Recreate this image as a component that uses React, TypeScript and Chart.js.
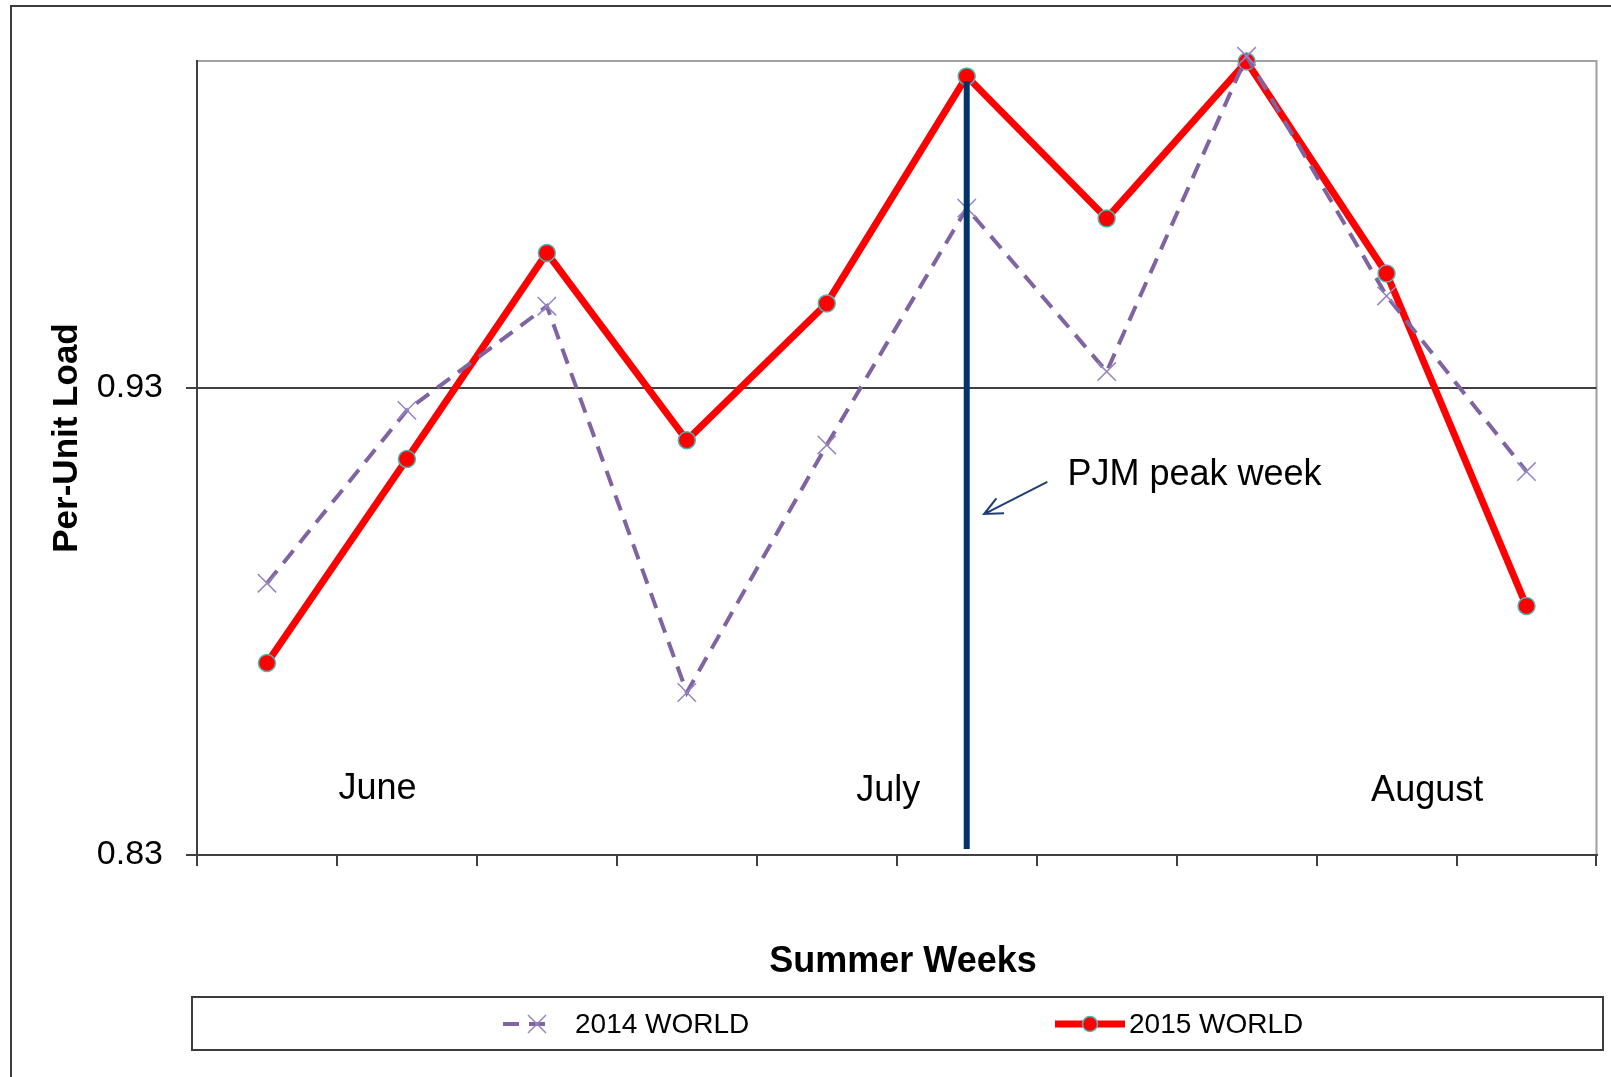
import React, { useEffect, useRef } from 'react';
import { Chart, registerables } from 'chart.js';

Chart.register(...registerables);

// ---------- data ----------
const weeks = ['Week 1', 'Week 2', 'Week 3', 'Week 4', 'Week 5', 'Week 6', 'Week 7', 'Week 8', 'Week 9', 'Week 10'];
const load2014 = [0.8882, 0.9252, 0.9475, 0.8648, 0.9178, 0.9685, 0.9335, 1.001, 0.9497, 0.9121];
const load2015 = [0.8711, 0.9148, 0.9589, 0.9188, 0.9481, 0.9967, 0.9663, 0.9999, 0.9545, 0.8833];
const seriesLabels = ['2014 WORLD', '2015 WORLD'];
const yTickValues = [0.83, 0.93];
const yMin = 0.83;
const yMax = 1.0;
const months = ['June', 'July', 'August'];
const peakWeekIndex = 5;
const peakLabel = 'PJM peak week';
const xTitle = 'Summer Weeks';
const yTitle = 'Per-Unit Load';

// ---------- layout / style (positions in category-index / value units where on the plot) ----------
const FONT = '"Liberation Sans", Arial, Helvetica, sans-serif';
const monthAnchors = [
  { x: 0.79, y: 0.842 },
  { x: 4.44, y: 0.8416 },
  { x: 8.29, y: 0.8416 },
];
const peakTextAnchor = { x: 5.72, y: 0.9092 };
const arrowFrom = { x: 5.576, y: 0.9099 };
const arrowTo = { x: 5.124, y: 0.903 };
const peakLineBottom = 0.8313;

const PURPLE = '#8064a2';
const PURPLE_MARK = '#9585c2';
const RED = '#ff0000';
const TEAL = '#4bb8b8';
const NAVY = '#00336a';

const decorPlugin = {
  id: 'decor',
  beforeDraw(chart: any) {
    const ctx = chart.ctx;
    const { left, right, top, bottom } = chart.chartArea;
    ctx.save();
    ctx.fillStyle = '#ffffff';
    ctx.fillRect(0, 0, chart.width, chart.height);
    // outer frame
    ctx.strokeStyle = '#3c3c3c';
    ctx.lineWidth = 2;
    ctx.beginPath();
    ctx.moveTo(11, chart.height + 2);
    ctx.lineTo(11, 6);
    ctx.lineTo(chart.width + 2, 6);
    ctx.stroke();
    // plot-area top/right border
    ctx.strokeStyle = '#a0a0a0';
    ctx.lineWidth = 2;
    ctx.beginPath();
    ctx.moveTo(left, top);
    ctx.lineTo(right, top);
    ctx.lineTo(right, bottom);
    ctx.stroke();
    ctx.restore();
  },
  afterDatasetsDraw(chart: any) {
    const ctx = chart.ctx;
    const xs = chart.scales.x;
    const ys = chart.scales.y;
    ctx.save();
    // peak week vertical line
    const px = xs.getPixelForValue(peakWeekIndex);
    const pTop = ys.getPixelForValue(load2015[peakWeekIndex]) + 5;
    const pBot = ys.getPixelForValue(peakLineBottom);
    ctx.strokeStyle = NAVY;
    ctx.lineWidth = 6;
    ctx.beginPath();
    ctx.moveTo(px, pTop);
    ctx.lineTo(px, pBot);
    ctx.stroke();

    // arrow
    const ax1 = xs.getPixelForValue(arrowFrom.x);
    const ay1 = ys.getPixelForValue(arrowFrom.y);
    const ax2 = xs.getPixelForValue(arrowTo.x);
    const ay2 = ys.getPixelForValue(arrowTo.y);
    ctx.strokeStyle = '#1f3f73';
    ctx.lineWidth = 2;
    ctx.beginPath();
    ctx.moveTo(ax1, ay1);
    ctx.lineTo(ax2, ay2);
    const ang = Math.atan2(ay1 - ay2, ax1 - ax2);
    const hl = 20;
    const ha = (25 * Math.PI) / 180;
    ctx.moveTo(ax2 + hl * Math.cos(ang - ha), ay2 + hl * Math.sin(ang - ha));
    ctx.lineTo(ax2, ay2);
    ctx.lineTo(ax2 + hl * Math.cos(ang + ha), ay2 + hl * Math.sin(ang + ha));
    ctx.stroke();

    // annotation text
    ctx.fillStyle = '#000';
    ctx.font = `36px ${FONT}`;
    ctx.textAlign = 'left';
    ctx.textBaseline = 'alphabetic';
    ctx.fillText(peakLabel, xs.getPixelForValue(peakTextAnchor.x), ys.getPixelForValue(peakTextAnchor.y));

    // month labels
    ctx.textAlign = 'center';
    months.forEach((m, i) => {
      ctx.fillText(m, xs.getPixelForValue(monthAnchors[i].x), ys.getPixelForValue(monthAnchors[i].y));
    });
    ctx.restore();
  },
  afterDraw(chart: any) {
    const ctx = chart.ctx;
    ctx.save();
    ctx.fillStyle = '#000';
    // axis titles
    ctx.font = `bold 36px ${FONT}`;
    ctx.textAlign = 'center';
    ctx.textBaseline = 'alphabetic';
    ctx.fillText(xTitle, 903, 972);
    ctx.save();
    ctx.font = `bold 35px ${FONT}`;
    ctx.translate(77, 438);
    ctx.rotate(-Math.PI / 2);
    ctx.fillText(yTitle, 0, 0);
    ctx.restore();

    // legend box
    ctx.strokeStyle = '#3c3c3c';
    ctx.lineWidth = 2;
    ctx.strokeRect(192, 997, 1411, 53);
    const ly = 1024;
    const ds = chart.data.datasets;
    // 2014 symbol
    ctx.strokeStyle = ds[0].borderColor;
    ctx.lineWidth = ds[0].borderWidth;
    ctx.setLineDash(ds[0].borderDash);
    ctx.beginPath();
    ctx.moveTo(503, ly);
    ctx.lineTo(552, ly);
    ctx.stroke();
    ctx.setLineDash([]);
    ctx.strokeStyle = ds[0].pointBorderColor;
    ctx.lineWidth = 1.5;
    const h = 9;
    ctx.beginPath();
    ctx.moveTo(537 - h, ly - h);
    ctx.lineTo(537 + h, ly + h);
    ctx.moveTo(537 - h, ly + h);
    ctx.lineTo(537 + h, ly - h);
    ctx.stroke();
    // 2015 symbol
    ctx.strokeStyle = ds[1].borderColor;
    ctx.lineWidth = ds[1].borderWidth;
    ctx.beginPath();
    ctx.moveTo(1055, ly);
    ctx.lineTo(1125, ly);
    ctx.stroke();
    ctx.fillStyle = ds[1].pointBackgroundColor;
    ctx.strokeStyle = ds[1].pointBorderColor;
    ctx.lineWidth = 1.5;
    ctx.beginPath();
    ctx.arc(1090, ly, 7.5, 0, Math.PI * 2);
    ctx.fill();
    ctx.stroke();
    // legend texts
    ctx.fillStyle = '#000';
    ctx.font = `28px ${FONT}`;
    ctx.textAlign = 'left';
    ctx.textBaseline = 'middle';
    ctx.fillText(ds[0].label, 575, ly + 1);
    ctx.fillText(ds[1].label, 1129, ly + 1);
    ctx.restore();
  },
};

export default function App() {
  const canvasRef = useRef<HTMLCanvasElement | null>(null);

  useEffect(() => {
    const canvas = canvasRef.current;
    if (!canvas) return;
    const chart = new Chart(canvas, {
      type: 'line',
      data: {
        labels: weeks,
        datasets: [
          {
            label: seriesLabels[0],
            data: load2014,
            borderColor: PURPLE,
            borderWidth: 4,
            borderDash: [16, 10],
            pointStyle: 'crossRot',
            pointRadius: 13,
            pointBorderColor: PURPLE_MARK,
            pointBackgroundColor: PURPLE_MARK,
            pointBorderWidth: 1.5,
            fill: false,
            tension: 0,
            clip: false,
          } as any,
          {
            label: seriesLabels[1],
            data: load2015,
            borderColor: RED,
            borderWidth: 7,
            borderJoinStyle: 'round',
            pointStyle: 'circle',
            pointRadius: 8.5,
            pointBackgroundColor: RED,
            pointBorderColor: TEAL,
            pointBorderWidth: 1.5,
            fill: false,
            tension: 0,
            clip: false,
          } as any,
        ],
      },
      options: {
        responsive: false,
        animation: false,
        devicePixelRatio: 1,
        layout: { padding: { left: 0, top: 61, right: 14, bottom: 222 } },
        plugins: {
          legend: { display: false },
          tooltip: { enabled: false },
          title: { display: false },
        },
        scales: {
          x: {
            type: 'category',
            offset: true,
            grid: {
              display: true,
              offset: true,
              drawOnChartArea: false,
              drawTicks: true,
              tickLength: 11,
              color: '#404040',
              lineWidth: 2,
            },
            border: { display: true, color: '#404040', width: 2 },
            ticks: { display: false },
            afterFit: (s: any) => {
              s.height = 0;
              s.paddingLeft = 0;
              s.paddingRight = 0;
            },
          },
          y: {
            type: 'linear',
            min: yMin,
            max: yMax,
            afterBuildTicks: (s: any) => {
              s.ticks = yTickValues.map((v) => ({ value: v }));
            },
            afterFit: (s: any) => {
              s.width = 197;
              s.paddingTop = 0;
              s.paddingBottom = 0;
            },
            ticks: {
              color: '#000',
              padding: 23,
              font: { family: FONT, size: 34 },
              callback: (v: any) => Number(v).toFixed(2),
            },
            grid: {
              color: '#404040',
              lineWidth: 2,
              drawTicks: true,
              tickLength: 11,
            },
            border: { display: true, color: '#404040', width: 2 },
          },
        },
      } as any,
      plugins: [decorPlugin],
    });
    return () => chart.destroy();
  }, []);

  return (
    <div
      style={{
        position: 'fixed',
        left: 0,
        top: 0,
        width: 1611,
        height: 1077,
        overflow: 'hidden',
        background: '#fff',
      }}
    >
      <canvas ref={canvasRef} width={1611} height={1077} style={{ display: 'block', width: 1611, height: 1077 }} />
    </div>
  );
}
